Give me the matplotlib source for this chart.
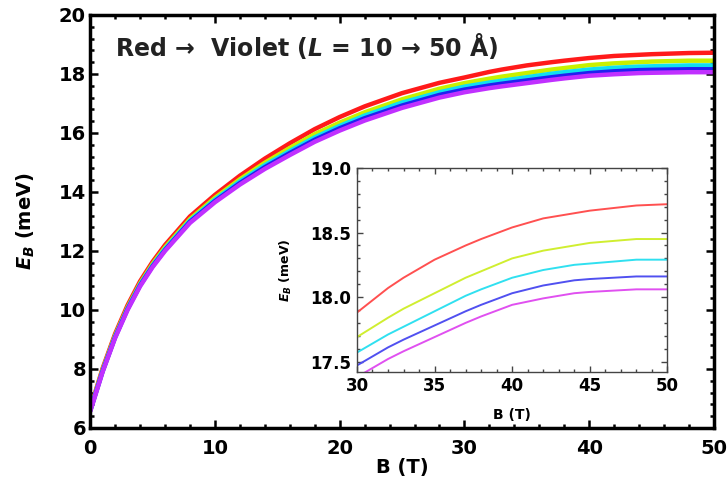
import matplotlib
matplotlib.use("Agg")
import matplotlib.pyplot as plt
from matplotlib.ticker import MultipleLocator, FormatStrFormatter

plt.rcParams['font.family'] = ['DejaVu Sans']
plt.rcParams['font.weight'] = 'bold'
plt.rcParams['mathtext.fontset'] = 'custom'
plt.rcParams['mathtext.it'] = 'DejaVu Sans:italic:bold'
plt.rcParams['mathtext.rm'] = 'DejaVu Sans:bold'
plt.rcParams['mathtext.bf'] = 'DejaVu Sans:bold'

# magnetic field (T)
B = [0, 1, 2, 3, 4, 5, 6, 8, 10, 12, 14, 16, 18, 20, 22, 25, 28, 30, 32, 33, 35, 37, 38, 40, 42, 44, 45, 48, 50]

# binding energy (meV), L = 10 -> 50 A
E_red = [6.65, 8.02, 9.19, 10.16, 10.97, 11.63, 12.2, 13.17, 13.9, 14.55, 15.13, 15.65, 16.13, 16.54, 16.9, 17.35, 17.7, 17.88, 18.07, 18.15, 18.29, 18.40, 18.45, 18.54, 18.61, 18.65, 18.67, 18.71, 18.72]
E_yellow = [6.61, 7.97, 9.13, 10.09, 10.9, 11.56, 12.12, 13.08, 13.8, 14.43, 14.99, 15.49, 15.96, 16.35, 16.7, 17.14, 17.5, 17.69, 17.84, 17.91, 18.03, 18.15, 18.2, 18.3, 18.36, 18.40, 18.42, 18.45, 18.45]
E_cyan = [6.59, 7.94, 9.1, 10.05, 10.86, 11.51, 12.07, 13.03, 13.74, 14.36, 14.91, 15.39, 15.85, 16.24, 16.59, 17.03, 17.38, 17.57, 17.71, 17.77, 17.89, 18.01, 18.06, 18.15, 18.21, 18.25, 18.26, 18.29, 18.29]
E_blue = [6.57, 7.92, 9.07, 10.03, 10.83, 11.48, 12.03, 12.99, 13.69, 14.3, 14.84, 15.32, 15.77, 16.16, 16.5, 16.93, 17.29, 17.47, 17.61, 17.67, 17.78, 17.89, 17.94, 18.03, 18.09, 18.13, 18.14, 18.16, 18.16]
E_violet = [6.55, 7.9, 9.05, 10.0, 10.8, 11.45, 12.0, 12.95, 13.65, 14.25, 14.78, 15.25, 15.7, 16.08, 16.42, 16.85, 17.2, 17.38, 17.52, 17.58, 17.69, 17.80, 17.85, 17.94, 17.99, 18.03, 18.04, 18.06, 18.06]

series = [E_red, E_yellow, E_cyan, E_blue, E_violet]
main_colors = ['#ff1a1a', '#c8f000', '#10e0f0', '#2020f0', '#c030ff']
inset_colors = ['#ff5050', '#d0ee30', '#30e0f0', '#5050f0', '#e050f0']

fig = plt.figure(figsize=(7.27, 4.83), dpi=100)
ax = fig.add_axes([0.124, 0.114, 0.858, 0.855])

for E, c in zip(series, main_colors):
    ax.plot(B, E, color=c, lw=3.2, solid_capstyle='butt')

ax.set_xlim(0, 50)
ax.set_ylim(6, 20)
ax.xaxis.set_major_locator(MultipleLocator(10))
ax.xaxis.set_minor_locator(MultipleLocator(2))
ax.yaxis.set_major_locator(MultipleLocator(2))
ax.yaxis.set_minor_locator(MultipleLocator(0.4))
ax.tick_params(which='both', direction='in', top=True, right=True, width=1.8)
ax.tick_params(which='major', length=6, labelsize=14, pad=3)
ax.tick_params(axis='x', which='major', pad=8)
ax.tick_params(which='minor', length=3)
for s in ax.spines.values():
    s.set_linewidth(2.5)
ax.set_xlabel('B (T)', fontsize=14, fontweight='bold', labelpad=0)
ax.set_ylabel(r'$E_B$ (meV)', fontsize=14, fontweight='bold', labelpad=16)
ax.text(0.04, 0.9, 'Red \u2192  Violet (' + r'$L$' + ' = 10 \u2192 50 \u00c5)',
        transform=ax.transAxes, fontsize=17, fontweight='bold', color='#222222')

# inset
ins = fig.add_axes([0.491, 0.230, 0.427, 0.422])
for E, c in zip(series, inset_colors):
    ins.plot(B, E, color=c, lw=1.4)
ins.set_xlim(30, 50)
ins.set_ylim(17.42, 19.0)
ins.xaxis.set_major_locator(MultipleLocator(5))
ins.xaxis.set_minor_locator(MultipleLocator(1))
ins.yaxis.set_major_locator(MultipleLocator(0.5))
ins.yaxis.set_minor_locator(MultipleLocator(0.1))
ins.yaxis.set_major_formatter(FormatStrFormatter('%.1f'))
ins.tick_params(which='both', direction='in', top=True, right=True, width=1.0, color='#444444')
ins.tick_params(which='major', length=4, labelsize=12, pad=4)
ins.tick_params(which='minor', length=2)
for s in ins.spines.values():
    s.set_linewidth(1.0)
    s.set_color('#444444')
ins.set_xlabel('B (T)', fontsize=10, fontweight='bold', labelpad=9)
ins.set_ylabel(r'$E_B$ (meV)', fontsize=9, fontweight='bold', labelpad=12)

fig.savefig('out.png', dpi=100)
